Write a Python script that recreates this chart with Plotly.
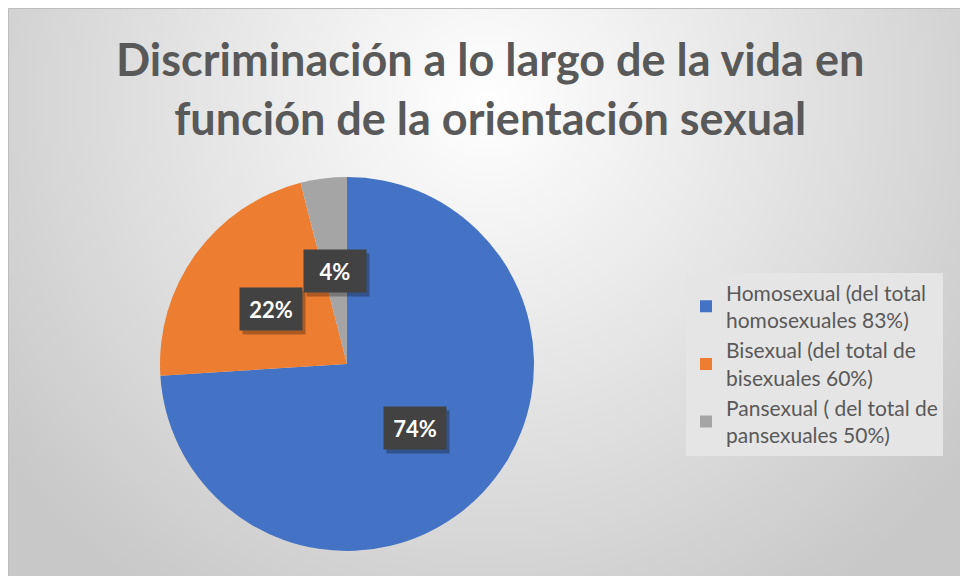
import base64
import math
import struct
import zlib

import plotly.graph_objects as go

# ---- data ----
categories = [
    "Homosexual (del total<br>homosexuales 83%)",
    "Bisexual (del total de<br>bisexuales 60%)",
    "Pansexual ( del total de<br>pansexuales 50%)",
]
values = [74, 22, 4]
slice_colors = ["#4472C4", "#ED7D31", "#A5A5A5"]
title_text = "Discriminación a lo largo de la vida en<br>función de la orientación sexual"

W, H = 968, 576
OFF = 8  # page body margin offset (figure drawn at +8,+8 on screen)


def fx(x):  # screen px -> paper fraction
    return (x - OFF) / W


def fy(y):
    return 1 - (y - OFF) / H


# ---- radial gradient background as PNG data URI ----
def gradient_png(w, h, cx, cy, rad, c0=255, c1=200):
    rows = []
    for j in range(h):
        row = bytearray([0])
        for i in range(w):
            d = math.hypot(i - cx, j - cy) / rad
            t = min(1.0, d)
            v = int(round(c0 - (c0 - c1) * t))
            row += bytes([v, v, v])
        rows.append(bytes(row))
    raw = b"".join(rows)

    def chunk(tag, data):
        c = struct.pack(">I", len(data)) + tag + data
        return c + struct.pack(">I", zlib.crc32(tag + data) & 0xFFFFFFFF)

    png = b"\x89PNG\r\n\x1a\n"
    png += chunk(b"IHDR", struct.pack(">IIBBBBB", w, h, 8, 2, 0, 0, 0))
    png += chunk(b"IDAT", zlib.compress(raw, 9))
    png += chunk(b"IEND", b"")
    return "data:image/png;base64," + base64.b64encode(png).decode()


s = 4
bg = gradient_png(W // s, H // s, (484 - OFF) / s, (100 - OFF) / s, 600 / s)

# pie geometry (screen pixels)
cx_px, cy_px, r_px = 347, 364, 187
dom_x = [fx(cx_px - r_px), fx(cx_px + r_px)]
dom_y = [fy(cy_px + r_px), fy(cy_px - r_px)]

fig = go.Figure()
fig.add_trace(
    go.Pie(
        labels=categories,
        values=values,
        sort=False,
        direction="clockwise",
        rotation=0,
        marker=dict(colors=slice_colors, line=dict(width=0)),
        textinfo="none",
        hoverinfo="label+percent",
        domain=dict(x=dom_x, y=dom_y),
    )
)

# data labels at half radius of each slice midpoint
total = sum(values)
annotations = []
cum = 0
for v in values:
    mid = (cum + v / 2) / total * 2 * math.pi
    cum += v
    px = cx_px + 0.5 * r_px * math.sin(mid)
    py = cy_px - 0.5 * r_px * math.cos(mid)
    pct = f"{round(v / total * 100)}%"
    common = dict(
        x=fx(px), y=fy(py), xref="paper", yref="paper",
        showarrow=False, width=46, height=26, borderpad=8,
        xanchor="center", yanchor="middle",
    )
    annotations.append(dict(common, text=" ", bgcolor="rgba(0,0,0,0.28)", xshift=3, yshift=-4))
    annotations.append(
        dict(
            common,
            text=f"<b>{pct}</b>",
            bgcolor="#424242",
            font=dict(family="Lato, Carlito, sans-serif", size=22, color="white"),
        )
    )

# title as annotation
annotations.append(
    dict(
        text=f"<b>{title_text}</b>", x=fx(490), y=fy(30), xref="paper", yref="paper",
        xanchor="center", yanchor="top", showarrow=False, align="center",
        font=dict(family="Lato, Carlito, sans-serif", size=45, color="#595959"),
    )
)

fig.update_layout(
    width=W,
    height=H,
    margin=dict(l=0, r=0, t=0, b=0),
    paper_bgcolor="#d6d6d6",
    plot_bgcolor="rgba(0,0,0,0)",
    images=[
        dict(
            source=bg, xref="paper", yref="paper", x=0, y=1,
            sizex=1, sizey=1, xanchor="left", yanchor="top",
            sizing="stretch", layer="below",
        )
    ],
    legend=dict(
        x=fx(686), y=fy(364), xanchor="left", yanchor="middle",
        bgcolor="#e5e5e5",
        borderwidth=0,
        font=dict(family="Lato, Carlito, sans-serif", size=21, color="#595959"),
        itemwidth=30,
    ),
    annotations=annotations,
    shapes=[
        dict(type="line", xref="paper", yref="paper", x0=0.5 / W, x1=1, y0=1 - 0.5 / H, y1=1 - 0.5 / H,
             line=dict(color="#bdbdbd", width=1)),
        dict(type="line", xref="paper", yref="paper", x0=0.5 / W, x1=0.5 / W, y0=0, y1=1 - 0.5 / H,
             line=dict(color="#bdbdbd", width=1)),
    ],
)

fig.write_html("out.html")
